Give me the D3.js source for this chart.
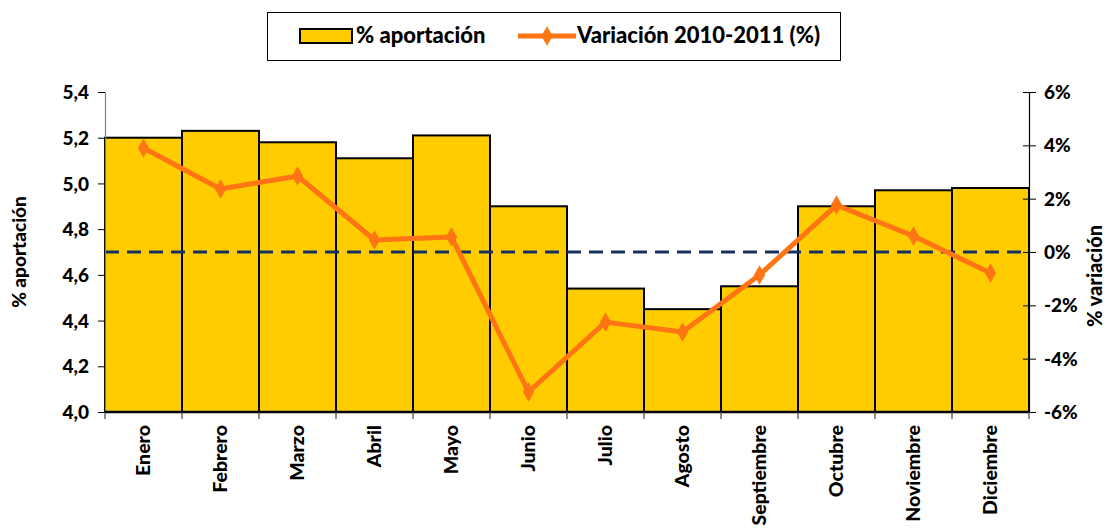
<!DOCTYPE html>
<html><head><meta charset="utf-8">
<script src="https://cdn.jsdelivr.net/npm/d3@7"></script>
<style>body{margin:0;background:#fff}svg{display:block}text{font-family:Lato,"Open Sans",sans-serif;font-weight:900;fill:#000}</style>
</head><body>
<script>
const months = ["Enero","Febrero","Marzo","Abril","Mayo","Junio","Julio","Agosto","Septiembre","Octubre","Noviembre","Diciembre"];
const aportacion = [5.20,5.23,5.18,5.11,5.21,4.90,4.54,4.45,4.55,4.90,4.97,4.98];
const variacion = [3.9,2.36,2.85,0.45,0.56,-5.25,-2.63,-3.0,-0.86,1.76,0.6,-0.79];
const leftTicks = [4.0,4.2,4.4,4.6,4.8,5.0,5.2,5.4];
const rightTicks = [-6,-4,-2,0,2,4,6];
const seriesNames = ["% aportación","Variación 2010-2011 (%)"];

const W=1108,H=531, L=105, R=1029, T=92, B=412;
const svg=d3.select("body").append("svg").attr("width",W).attr("height",H);
const x=d3.scaleBand().domain(months).range([L,R]).padding(0);
const yL=d3.scaleLinear().domain([4.0,5.4]).range([B,T]);
const yR=d3.scaleLinear().domain([-6,6]).range([B,T]);

// bars
svg.append("g").selectAll("rect").data(months).join("rect")
 .attr("x",d=>x(d)).attr("width",x.bandwidth())
 .attr("y",(d,i)=>yL(aportacion[i])).attr("height",(d,i)=>B-yL(aportacion[i]))
 .attr("fill","#FFCC00").attr("stroke","#000").attr("stroke-width",2);

// zero line
svg.append("line").attr("x1",L).attr("x2",R).attr("y1",yR(0)).attr("y2",yR(0))
 .attr("stroke","#17305E").attr("stroke-width",3).attr("stroke-dasharray","14,8");

// left axis
const la=svg.append("g").attr("transform",`translate(${L},0)`)
 .call(d3.axisLeft(yL).tickValues(leftTicks).tickFormat(d=>d3.format(".1f")(d).replace(".",",")).tickSize(7).tickSizeOuter(0));
la.select(".domain").attr("stroke","#808080").attr("stroke-width",1.2);
la.selectAll(".tick line").attr("stroke","#000").attr("x2",-7).attr("x1",0);
la.selectAll(".tick text").attr("font-size",19).attr("x",-16).attr("dy","0.35em");

// right axis
const ra=svg.append("g").attr("transform",`translate(${R},0)`)
 .call(d3.axisRight(yR).tickValues(rightTicks).tickFormat(d=>d+"%").tickSize(7).tickSizeOuter(0));
ra.select(".domain").attr("stroke","#000").attr("stroke-width",1.2);
ra.selectAll(".tick line").attr("stroke","#000").attr("x1",-6).attr("x2",7);
ra.selectAll(".tick text").attr("font-size",19).attr("x",15).attr("dy","0.35em");

// bottom axis
const ba=svg.append("g").attr("transform",`translate(0,${B})`)
 .call(d3.axisBottom(x).tickSize(0).tickSizeOuter(0));
ba.select(".domain").remove();
svg.append("line").attr("x1",L).attr("x2",R).attr("y1",B).attr("y2",B).attr("stroke","#000").attr("stroke-width",2.5);
svg.append("g").selectAll("line").data(months.concat(["_end"])).join("line")
 .attr("x1",(d,i)=>L+i*x.step()).attr("x2",(d,i)=>L+i*x.step())
 .attr("y1",B).attr("y2",B+7).attr("stroke","#444").attr("stroke-width",1.2);
ba.selectAll(".tick text").attr("font-size",19.5).attr("transform","rotate(-90)")
 .attr("text-anchor","end").attr("x",-13).attr("y",0).attr("dy","0.35em");

// line
const line=d3.line().x((d,i)=>x(months[i])+x.bandwidth()/2).y(d=>yR(d));
svg.append("path").datum(variacion).attr("d",line).attr("fill","none")
 .attr("stroke","#FF7514").attr("stroke-width",5).attr("stroke-linejoin","round");
const diamond=d3.symbol().type(d3.symbolDiamond).size(110);
svg.append("g").selectAll("path").data(variacion).join("path")
 .attr("d",diamond).attr("transform",(d,i)=>`translate(${x(months[i])+x.bandwidth()/2},${yR(d)})`)
 .attr("fill","#FF7514");

// axis titles
svg.append("text").attr("transform","translate(26,252) rotate(-90)").attr("text-anchor","middle").attr("font-size",19).text("% aportación");
svg.append("text").attr("transform","translate(1102,276) rotate(-90)").attr("text-anchor","middle").attr("font-size",20).text("% variación");

// legend
const lg=svg.append("g");
lg.append("rect").attr("x",267.5).attr("y",12.5).attr("width",573).attr("height",48).attr("fill","#fff").attr("stroke","#000").attr("stroke-width",1);
lg.append("rect").attr("x",300).attr("y",29).attr("width",52).attr("height",14).attr("fill","#FFCC00").attr("stroke","#000").attr("stroke-width",2);
lg.append("text").attr("x",356).attr("y",43).attr("font-size",22).text(seriesNames[0]);
lg.append("line").attr("x1",518).attr("x2",576).attr("y1",36).attr("y2",36).attr("stroke","#FF7514").attr("stroke-width",5);
lg.append("path").attr("d",diamond).attr("transform","translate(547,36)").attr("fill","#FF7514");
lg.append("text").attr("x",577).attr("y",43).attr("font-size",22).text(seriesNames[1]);
</script>
</body></html>
